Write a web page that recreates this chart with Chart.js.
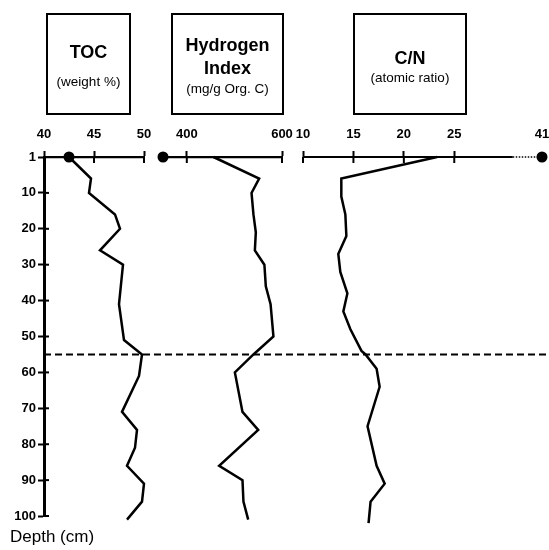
<!DOCTYPE html>
<html>
<head>
<meta charset="utf-8">
<script src="https://cdn.jsdelivr.net/npm/chart.js@4.4.1/dist/chart.umd.min.js"></script>
<style>
  body { margin: 0; background: #fff; font-family: "Liberation Sans", Arial, sans-serif; color: #000; }
  #wrap { position: relative; width: 549px; height: 550px; overflow: hidden; }
  canvas { position: absolute; left: 0; top: 0; }
  .box { position: absolute; top: 13px; height: 98px; border: 2px solid #000; }
  .t { position: absolute; left: 0; right: 0; text-align: center; white-space: nowrap; }
  .big { font-weight: bold; font-size: 18px; line-height: 20px; }
  .small { font-size: 13.5px; line-height: 16px; }
  #depth { position: absolute; left: 10px; top: 527px; font-size: 17px; line-height: 20px; }
</style>
</head>
<body>
<div id="wrap">
  <canvas id="toc" width="549" height="550"></canvas>
  <canvas id="hi" width="549" height="550"></canvas>
  <canvas id="cn" width="549" height="550"></canvas>

  <div class="box" style="left:46px; width:81px;">
    <div class="t big" style="top:27px;">TOC</div>
    <div class="t small" style="top:59px;">(weight %)</div>
  </div>
  <div class="box" style="left:171px; width:109px;">
    <div class="t big" style="top:20px;">Hydrogen</div>
    <div class="t big" style="top:43px;">Index</div>
    <div class="t small" style="top:66px;">(mg/g Org. C)</div>
  </div>
  <div class="box" style="left:353px; width:110px;">
    <div class="t big" style="top:33px;">C/N</div>
    <div class="t small" style="top:55px;">(atomic ratio)</div>
  </div>
  <div id="depth">Depth (cm)</div>
</div>

<script>
// depth axis (the top tick is labelled "1" on the original)
const depthTicks = [0, 10, 20, 30, 40, 50, 60, 70, 80, 90, 100];
const depthTickLabels = ['1', '10', '20', '30', '40', '50', '60', '70', '80', '90', '100'];
const boundaryDepth = 55;

// TOC (weight %)
const tocDepth  = [0, 6, 10, 16, 20, 26, 30, 41, 51, 55, 61, 71, 76, 81, 86, 91, 96, 101];
const tocValues = [42.5, 44.7, 44.5, 47.1, 47.6, 45.6, 47.9, 47.5, 48.0, 49.8, 49.5, 47.8, 49.3, 49.1, 48.3, 50.0, 49.8, 48.3];
const tocSurface = 42.5;
const tocTicks = [40, 45, 50];

// Hydrogen index (mg/g Org. C)
const hiDepth  = [0, 6, 10, 16, 21, 26, 30, 36, 41, 50, 55, 60, 71, 76, 86, 90, 96, 101];
const hiValues = [456, 552, 536, 540, 545, 543, 563, 566, 576, 582, 540, 501, 517, 550, 468, 517, 519, 529];
const hiSurface = 350;
const hiTicks = [400, 600];

// C/N (atomic ratio)
const cnDepth  = [0, 6, 11, 16, 22, 27, 32, 38, 43, 48, 54, 55, 59, 64, 75, 86, 91, 96, 102];
const cnValues = [23.3, 13.8, 13.8, 14.2, 14.3, 13.5, 13.7, 14.4, 14.0, 14.7, 15.8, 16.2, 17.3, 17.6, 16.4, 17.3, 18.1, 16.7, 16.5];
const cnSurface = 41;
const cnTicks = [10, 15, 20, 25];

// the C/N axis is broken: solid up to cnBreak, dotted to the end where the off-scale surface value sits
const cnBreak = 30.8;
const cnAxisEnd = 33.7;

Chart.defaults.font.family = '"Liberation Sans", Arial, sans-serif';
Chart.defaults.color = '#000';

const tickFont = { size: 13, weight: 'bold' };

const crossTicks = {
  id: 'crossTicks',
  afterDraw(chart, args, opts) {
    const ctx = chart.ctx;
    const area = chart.chartArea;
    const xs = chart.scales.x;
    const ys = chart.scales.y;
    ctx.save();
    ctx.strokeStyle = '#000';

    // axis line with an optional break
    if (opts.breakAt !== undefined) {
      const bx = xs.getPixelForValue(opts.breakAt);
      ctx.lineWidth = 2.2;
      ctx.beginPath();
      ctx.moveTo(area.left, area.top);
      ctx.lineTo(bx, area.top);
      ctx.stroke();
      ctx.lineWidth = 1.5;
      ctx.setLineDash([1.5, 1.5]);
      ctx.beginPath();
      ctx.moveTo(bx, area.top);
      ctx.lineTo(area.right, area.top);
      ctx.stroke();
      ctx.setLineDash([]);
    }

    // inner half of the tick marks so they cross the axis
    ctx.lineWidth = 2;
    xs.ticks.forEach(t => {
      if (t.labelOnly) return;
      const px = xs.getPixelForValue(t.value);
      ctx.beginPath();
      ctx.moveTo(px, area.top);
      ctx.lineTo(px, area.top + 6);
      ctx.stroke();
    });
    if (ys.options.display) {
      ys.ticks.forEach(t => {
        const py = ys.getPixelForValue(t.value);
        ctx.beginPath();
        ctx.moveTo(area.left, py);
        ctx.lineTo(area.left + 5, py);
        ctx.stroke();
      });
    }

    // dashed boundary across the whole figure
    if (opts.boundary !== undefined) {
      const py = ys.getPixelForValue(opts.boundary);
      ctx.lineWidth = 2;
      ctx.setLineDash([7, 4]);
      ctx.beginPath();
      ctx.moveTo(area.left, py);
      ctx.lineTo(chart.width, py);
      ctx.stroke();
    }
    ctx.restore();
  }
};

function profile(depths, values) {
  return {
    data: depths.map((d, i) => ({ x: values[i], y: d })),
    showLine: true,
    borderColor: '#000',
    borderWidth: 2.5,
    pointRadius: 0,
    tension: 0,
    clip: false
  };
}

function surfaceDot(value) {
  return {
    data: [{ x: value, y: 0 }],
    showLine: false,
    pointRadius: 5.5,
    pointBackgroundColor: '#000',
    pointBorderColor: '#000',
    pointBorderWidth: 0,
    clip: false
  };
}

function makeChart(id, cfg) {
  new Chart(document.getElementById(id), {
    type: 'scatter',
    data: { datasets: cfg.datasets },
    options: {
      responsive: false,
      animation: false,
      events: [],
      layout: { padding: { left: cfg.left, right: cfg.right, top: 0, bottom: 34 } },
      plugins: {
        legend: { display: false },
        tooltip: { enabled: false },
        crossTicks: cfg.decor || {}
      },
      scales: {
        x: {
          type: 'linear',
          position: 'top',
          min: cfg.min,
          max: cfg.max,
          afterFit: s => {
            s.height = 157;
            // let the layout padding alone decide where the plot area sits
            s.paddingLeft = 0;
            s.paddingRight = 0;
          },
          afterBuildTicks: s => { s.ticks = cfg.ticks.slice(); },
          ticks: {
            font: tickFont,
            padding: 9,
            maxRotation: 0,
            autoSkip: false,
            callback: cfg.label || (v => v)
          },
          grid: {
            drawOnChartArea: false,
            tickLength: 6,
            tickWidth: 2,
            tickColor: c => (c.tick && c.tick.labelOnly) ? 'rgba(0,0,0,0)' : '#000'
          },
          border: { display: cfg.border !== false, width: 2.2, color: '#000' }
        },
        y: {
          type: 'linear',
          display: !!cfg.showY,
          min: 0,
          max: 100,
          reverse: true,
          afterFit: s => { s.width = cfg.showY ? 44 : 0; },
          afterBuildTicks: s => { s.ticks = depthTicks.map(v => ({ value: v })); },
          ticks: {
            font: tickFont,
            padding: 2,
            callback: v => depthTickLabels[depthTicks.indexOf(v)]
          },
          grid: { drawOnChartArea: false, tickLength: 6, tickWidth: 2, color: '#000' },
          border: { width: 3, color: '#000' }
        }
      }
    },
    plugins: [crossTicks]
  });
}

makeChart('toc', {
  left: 0, right: 405, showY: true,
  min: 40, max: 50,
  ticks: tocTicks.map(v => ({ value: v })),
  datasets: [profile(tocDepth, tocValues), surfaceDot(tocSurface)],
  decor: { boundary: boundaryDepth }
});

makeChart('hi', {
  left: 163, right: 267,
  min: hiSurface, max: 600,
  ticks: hiTicks.map(v => ({ value: v })),
  datasets: [profile(hiDepth, hiValues), surfaceDot(hiSurface)]
});

makeChart('cn', {
  left: 303, right: 7,
  min: 10, max: cnAxisEnd,
  ticks: cnTicks.map(v => ({ value: v })).concat([{ value: cnAxisEnd, labelOnly: true }]),
  label: v => (v === cnAxisEnd ? String(cnSurface) : v),
  border: false,
  datasets: [profile(cnDepth, cnValues), surfaceDot(Math.min(cnSurface, cnAxisEnd))],
  decor: { breakAt: cnBreak }
});
</script>
</body>
</html>
